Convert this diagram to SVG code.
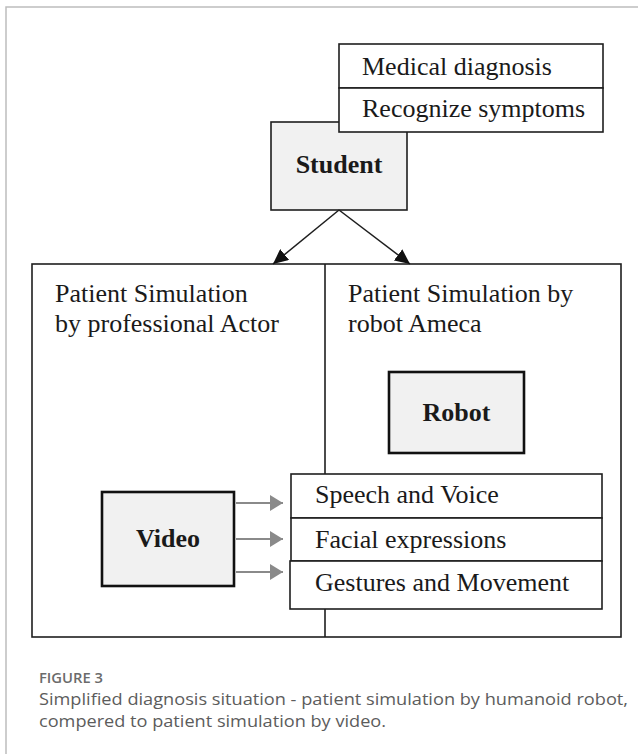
<svg xmlns="http://www.w3.org/2000/svg" width="638" height="754" viewBox="0 0 638 754">
  <style>
    .frame { stroke: #bdbdbd; stroke-width: 1.5; fill: none; }
    .box { fill: #ffffff; stroke: #1e1e1e; stroke-width: 1.6; }
    .shade { fill: #f1f1f1; stroke: #1e1e1e; stroke-width: 1.6; }
    .heavy { fill: #f1f1f1; stroke: #111111; stroke-width: 2.6; }
    .t { font-family: "Liberation Serif", "Times New Roman", serif; font-size: 26px; fill: #1a1a1a; }
    .b { font-family: "Liberation Serif", "Times New Roman", serif; font-size: 26px; font-weight: bold; fill: #1a1a1a; text-anchor: middle; }
    .link { stroke: #1e1e1e; stroke-width: 1.5; fill: none; marker-end: url(#headBlack); }
    .feed { stroke: #8a8a8a; stroke-width: 2; fill: none; marker-end: url(#headGray); }
    .caplabel { font-family: "Open Sans", "Liberation Sans", sans-serif; font-size: 13.5px; font-weight: 600; fill: #6b6b6b; }
    .caption { font-family: "Open Sans", "Liberation Sans", sans-serif; font-size: 17px; fill: #5c5c5c; }
  </style>
  <defs>
    <marker id="headBlack" markerUnits="userSpaceOnUse" markerWidth="16" markerHeight="14" refX="15" refY="7" orient="auto">
      <path d="M0,0 L15,7 L0,14 Z" fill="#111111"/>
    </marker>
    <marker id="headGray" markerUnits="userSpaceOnUse" markerWidth="14" markerHeight="16" refX="13" refY="8" orient="auto">
      <path d="M0,0 L13,8 L0,16 Z" fill="#8a8a8a"/>
    </marker>
  </defs>

  <rect width="638" height="754" fill="#ffffff"/>
  <!-- page frame: top and left edges -->
  <path class="frame" d="M6,754 V7 H638"/>

  <!-- outer comparison panel split into two columns -->
  <g id="panel">
    <rect class="box" x="32" y="264" width="589" height="373"/>
    <line x1="325" y1="264" x2="325" y2="637" stroke="#1e1e1e" stroke-width="1.6"/>
    <text class="t" x="55" y="302">Patient Simulation</text>
    <text class="t" x="55" y="332">by professional Actor</text>
    <text class="t" x="348" y="302">Patient Simulation by</text>
    <text class="t" x="348" y="332">robot Ameca</text>
  </g>

  <g id="student">
    <rect class="shade" x="271" y="122" width="136" height="88"/>
    <text class="b" x="339" y="173">Student</text>
  </g>

  <g id="tasks">
    <rect class="box" x="339" y="44" width="264" height="44"/>
    <rect class="box" x="339" y="88" width="264" height="44"/>
    <text class="t" x="362" y="75">Medical diagnosis</text>
    <text class="t" x="362" y="117">Recognize symptoms</text>
  </g>

  <g id="robot">
    <rect class="heavy" x="389" y="372" width="135" height="81"/>
    <text class="b" x="456.5" y="421">Robot</text>
  </g>

  <g id="video">
    <rect class="heavy" x="102" y="492" width="132" height="94"/>
    <text class="b" x="168" y="547">Video</text>
  </g>

  <g id="cues">
    <rect class="box" x="291" y="474" width="311" height="44"/>
    <rect class="box" x="291" y="518" width="311" height="43"/>
    <rect class="box" x="290" y="561" width="312" height="48"/>
    <text class="t" x="315" y="503">Speech and Voice</text>
    <text class="t" x="315" y="548">Facial expressions</text>
    <text class="t" x="315" y="591">Gestures and Movement</text>
  </g>

  <g id="connectors">
    <line class="link" x1="339" y1="210" x2="273" y2="264"/>
    <line class="link" x1="339" y1="210" x2="410" y2="264"/>
    <line class="feed" x1="236" y1="503" x2="283" y2="503"/>
    <line class="feed" x1="236" y1="539" x2="283" y2="539"/>
    <line class="feed" x1="236" y1="572" x2="283" y2="572"/>
  </g>

  <g id="caption">
    <text class="caplabel" x="39" y="683" textLength="64" lengthAdjust="spacingAndGlyphs">FIGURE 3</text>
    <text class="caption" x="39" y="705" textLength="589" lengthAdjust="spacingAndGlyphs">Simplified diagnosis situation - patient simulation by humanoid robot,</text>
    <text class="caption" x="39" y="727" textLength="347" lengthAdjust="spacingAndGlyphs">compered to patient simulation by video.</text>
  </g>
</svg>
